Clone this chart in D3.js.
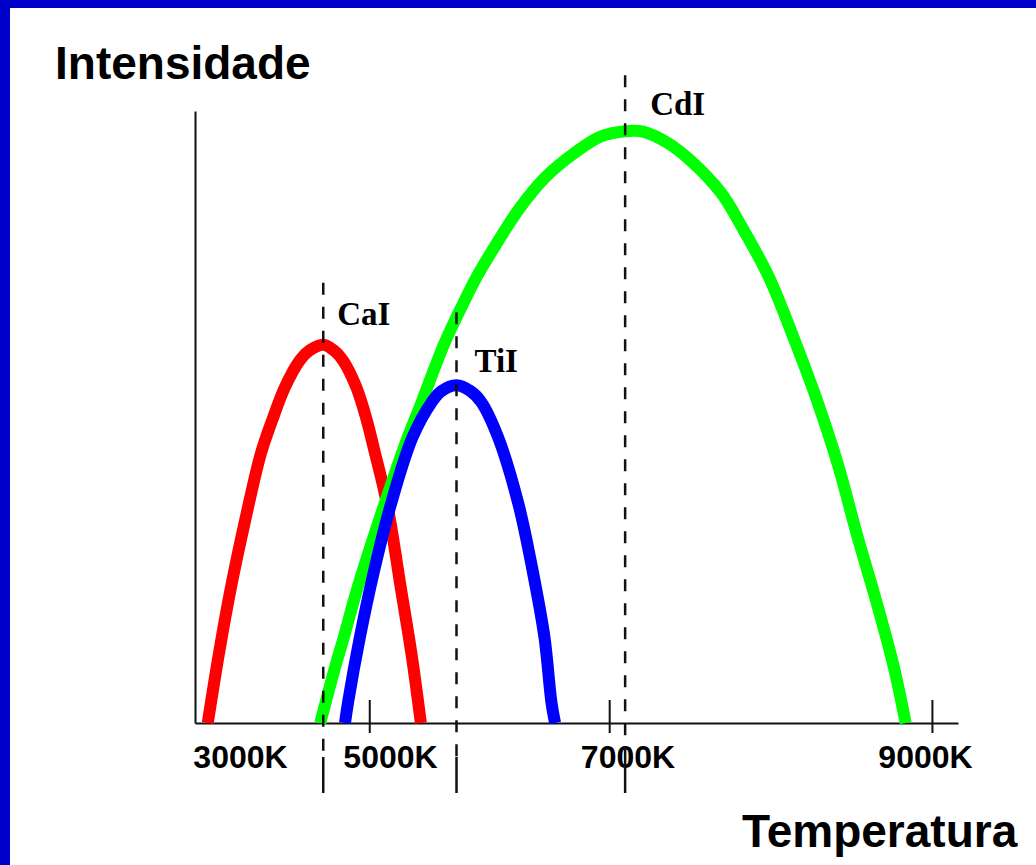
<!DOCTYPE html>
<html>
<head>
<meta charset="utf-8">
<script src="https://cdn.jsdelivr.net/npm/d3@7"></script>
<style>
  html, body { margin: 0; padding: 0; background: #fff; }
  svg { display: block; }
</style>
</head>
<body>
<svg id="chart" width="1036" height="865"></svg>
<script>
// temperature (K) and relative intensity
const caTemp = [2570, 2720, 2880, 3070, 3280, 3430, 3600, 3800, 3930, 4110, 4250, 4370, 4550, 4690, 4800, 4910, 5000, 5090, 5180, 5260];
const caInt  = [0, 0.114, 0.222, 0.332, 0.441, 0.495, 0.549, 0.593, 0.609, 0.618, 0.609, 0.593, 0.549, 0.495, 0.441, 0.386, 0.332, 0.222, 0.114, 0];

const tiTemp = [4400, 4440, 4600, 4790, 5010, 5190, 5350, 5430, 5560, 5680, 5770, 5910, 6080, 6200, 6300, 6360, 6390];
const tiInt  = [0, 0.033, 0.141, 0.25, 0.359, 0.467, 0.524, 0.542, 0.552, 0.542, 0.524, 0.467, 0.359, 0.25, 0.141, 0.033, 0];

const cdTemp = [4070, 4270, 4400, 4520, 4640, 4930, 5150, 5240, 5460, 5590, 5730, 5900, 6080, 6310, 6550, 6770, 6980, 7110, 7270, 7420, 7630, 7770, 7950, 8130, 8280, 8420, 8540, 8670, 8790, 8870];
const cdInt  = [0, 0.092, 0.147, 0.201, 0.25, 0.359, 0.467, 0.511, 0.621, 0.675, 0.729, 0.784, 0.838, 0.892, 0.931, 0.958, 0.967, 0.966, 0.948, 0.920, 0.866, 0.810, 0.729, 0.621, 0.523, 0.418, 0.310, 0.201, 0.092, 0];

const seriesNames = ['CaI', 'TiI', 'CdI'];
const labelTemps = [3000, 5000, 7000, 9000];
const tickTemps = [4730, 6850, 9050];

const series = [
  { name: 'CaI', color: '#ff0000', t: caTemp, v: caInt },
  { name: 'CdI', color: '#00ff00', t: cdTemp, v: cdInt },
  { name: 'TiI', color: '#0000ff', t: tiTemp, v: tiInt },
].map(s => ({ ...s, points: s.t.map((t, i) => ({ t, v: s.v[i] })) }));

// per label tweaks: text offset and how far the guide rises above the peak
const guideStyle = {
  CaI: { dx: 14, dy: -20, rise: 62 },
  TiI: { dx: 18, dy: -13, rise: 73 },
  CdI: { dx: 25, dy: -16, rise: 56 },
};

const svg = d3.select('#chart');

// blue frame on top and left
svg.append('rect').attr('x', 0).attr('y', 0).attr('width', 1036).attr('height', 8).attr('fill', '#0000cc');
svg.append('rect').attr('x', 0).attr('y', 0).attr('width', 10).attr('height', 865).attr('fill', '#0000cc');

// the drawing's axis is not evenly spaced, so piecewise linear
const x = d3.scaleLinear()
  .domain([2400, 3000, 5000, 7000, 9000, 9222])
  .range([195, 240, 390, 627.5, 925, 958]);

const y = d3.scaleLinear()
  .domain([0, 1])
  .range([723, 111]);

// y axis (just the line)
svg.append('g')
  .attr('transform', `translate(${x(2400)},0)`)
  .call(d3.axisLeft(y).tickValues([]).tickSizeOuter(0))
  .select('.domain')
  .attr('stroke', '#111')
  .attr('stroke-width', 2);

// x axis with labels
const xAxis = svg.append('g')
  .attr('transform', `translate(0,${y(0)})`)
  .call(d3.axisBottom(x)
    .tickValues(labelTemps)
    .tickSize(0)
    .tickSizeOuter(0)
    .tickPadding(22)
    .tickFormat(d => d + 'K'));

xAxis.select('.domain').attr('stroke', '#111').attr('stroke-width', 2);
xAxis.selectAll('text')
  .attr('font-family', '"Liberation Sans", Arial, sans-serif')
  .attr('font-weight', 'bold')
  .attr('font-size', '32px')
  .attr('fill', '#000');

// tick marks crossing the axis
svg.append('g')
  .selectAll('line')
  .data(tickTemps)
  .join('line')
  .attr('x1', d => x(d))
  .attr('x2', d => x(d))
  .attr('y1', y(0) - 23)
  .attr('y2', y(0) + 10)
  .attr('stroke', '#111')
  .attr('stroke-width', 2);

// curves
const line = d3.line()
  .x(d => x(d.t))
  .y(d => y(d.v))
  .curve(d3.curveCatmullRom.alpha(0.5));

svg.append('g')
  .selectAll('path')
  .data(series)
  .join('path')
  .attr('d', d => line(d.points))
  .attr('fill', 'none')
  .attr('stroke', d => d.color)
  .attr('stroke-width', 12)
  .attr('stroke-linejoin', 'round');

// dashed guides through each peak, and the element labels
const peaks = seriesNames.map(name => {
  const s = series.find(d => d.name === name);
  return { name, ...d3.greatest(s.points, p => p.v) };
});

const guides = svg.append('g');

guides.selectAll('line.dash')
  .data(peaks)
  .join('line')
  .attr('class', 'dash')
  .attr('x1', d => x(d.t))
  .attr('x2', d => x(d.t))
  .attr('y1', d => y(d.v) - guideStyle[d.name].rise)
  .attr('y2', y(0) + 34)
  .attr('stroke', '#111')
  .attr('stroke-width', 2.5)
  .attr('stroke-dasharray', '12,12');

guides.selectAll('line.stub')
  .data(peaks)
  .join('line')
  .attr('class', 'stub')
  .attr('x1', d => x(d.t))
  .attr('x2', d => x(d.t))
  .attr('y1', y(0) + 34)
  .attr('y2', y(0) + 70)
  .attr('stroke', '#111')
  .attr('stroke-width', 2.5);

guides.selectAll('text')
  .data(peaks)
  .join('text')
  .attr('x', d => x(d.t) + guideStyle[d.name].dx)
  .attr('y', d => y(d.v) + guideStyle[d.name].dy)
  .attr('font-family', '"Liberation Serif", "Times New Roman", serif')
  .attr('font-weight', 'bold')
  .attr('font-size', '33px')
  .attr('fill', '#000')
  .text(d => d.name);

// axis titles
svg.append('text')
  .attr('x', 55)
  .attr('y', 79)
  .attr('font-family', '"Liberation Sans", Arial, sans-serif')
  .attr('font-weight', 'bold')
  .attr('font-size', '46px')
  .text('Intensidade');

svg.append('text')
  .attr('x', 742)
  .attr('y', 847)
  .attr('font-family', '"Liberation Sans", Arial, sans-serif')
  .attr('font-weight', 'bold')
  .attr('font-size', '46px')
  .text('Temperatura');
</script>
</body>
</html>
